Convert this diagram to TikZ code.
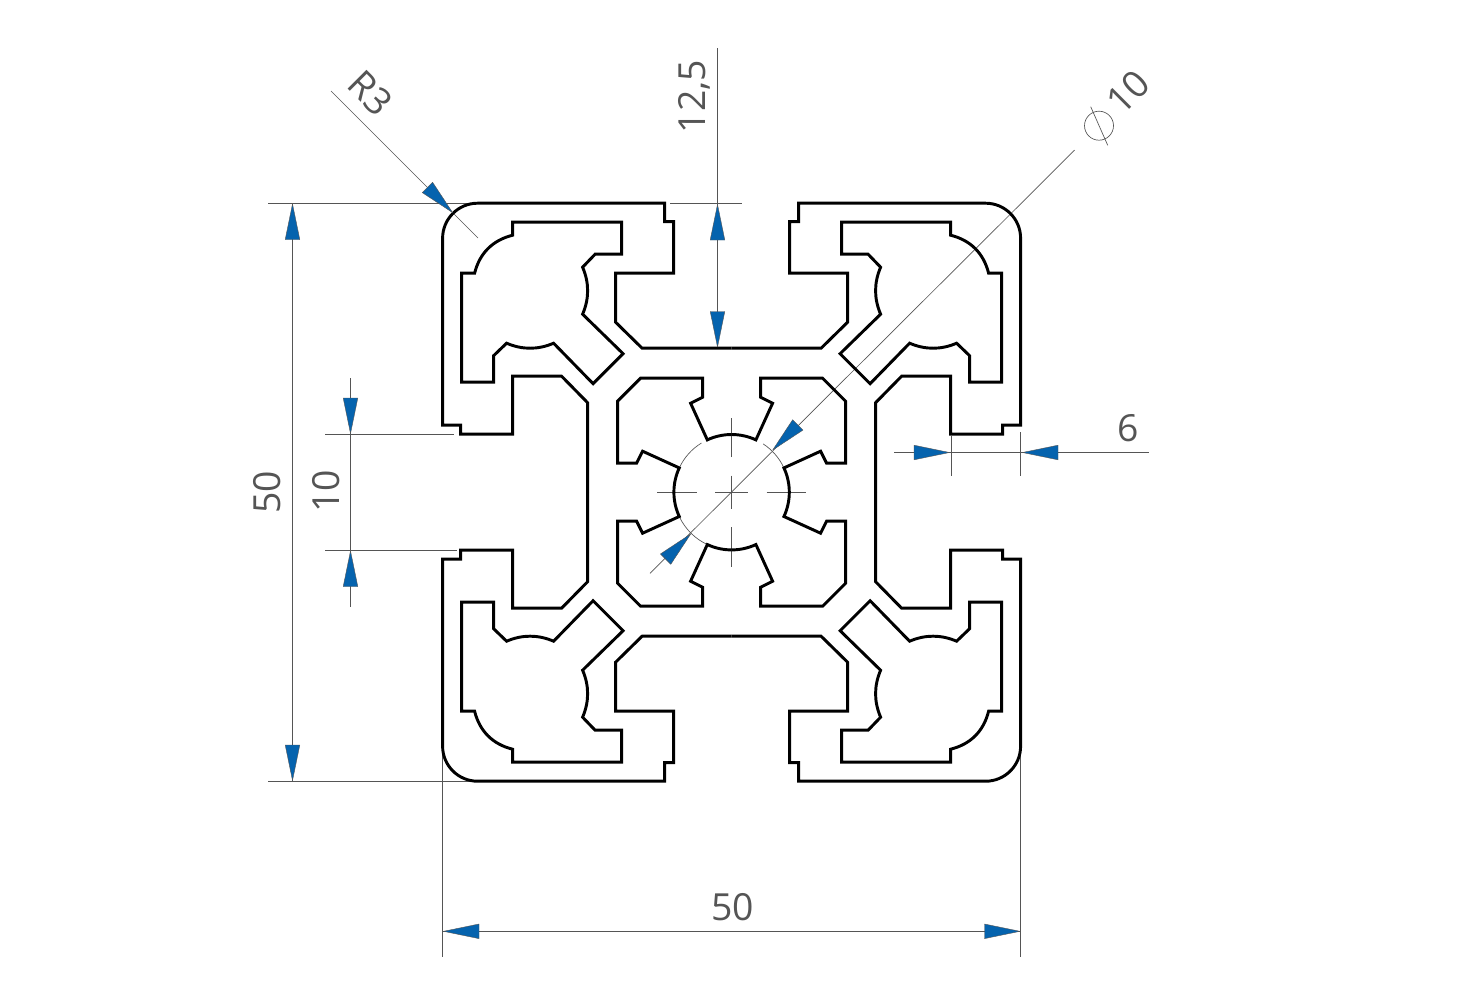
\documentclass[tikz,border=0pt]{standalone}
\usepackage{fontspec}
\setmainfont{Open Sans}
\definecolor{dimgray}{HTML}{555555}
\definecolor{dimblue}{HTML}{0563AE}
\tikzset{
  profile/.style={draw=black,line width=2.2pt,line join=miter,miter limit=3},
  hair/.style={draw=dimgray,line width=0.72pt},
  thinhair/.style={draw=dimgray,line width=0.5pt},
  arrowhead/.style={fill=dimblue,draw=dimgray,line width=0.3pt,line join=round},
  dimtext/.style={text=dimgray,inner sep=0pt,font=\fontsize{28}{28}\selectfont}
}
\newcommand{\dimarrow}[3]{\path[arrowhead,shift={(#1,#2)},rotate=#3] (0,0) -- (-35.5,-7.3) -- (-35.5,7.3) -- cycle;}
\begin{document}
\begin{tikzpicture}[x=0.75pt,y=-0.75pt]
\useasboundingbox (0,0) rectangle (1466,986);
\fill[white] (0,0) rectangle (1466,986);
% dimension and extension lines
\draw[hair] (292.5,203.3) -- (292.5,781);
\draw[hair] (268,203.3) -- (478,203.3);
\draw[hair] (268,781) -- (478,781);
\draw[hair] (350.5,378) -- (350.5,607);
\draw[hair] (325,434.3) -- (454,434.3);
\draw[hair] (325,550) -- (457,550);
\draw[hair] (717.5,48) -- (717.5,348);
\draw[hair] (670,203.3) -- (742,203.3);
\draw[hair] (894,452.5) -- (1149,452.5);
\draw[hair] (951,436) -- (951,476);
\draw[hair] (1020.6,432) -- (1020.6,476);
\draw[hair] (442.8,931.3) -- (1020.6,931.3);
\draw[hair] (442.8,745) -- (442.8,957);
\draw[hair] (1020.6,745) -- (1020.6,957);
\draw[thinhair] (331,91) -- (478,238);
\draw[thinhair] (650,573.3) -- (1074.7,150);
% diameter symbol
\draw[thinhair] (1099,125.7) circle[radius=14.5];
\draw[thinhair] (1090.7,106.7) -- (1107.7,145.3);
% centre cross and circle parts
\begin{scope}[shift={(731.6,492.2)}]
  \foreach \s in {1,-1}{
    \draw[hair] (\s*35,0) -- (\s*74.5,0);
    \draw[hair] (0,\s*35) -- (0,\s*74.5);
  }
  \draw[hair] (-16.5,0) -- (16.5,0);
  \draw[hair] (0,-16.5) -- (0,16.5);
  \draw[thinhair] (204.9:57.7) arc[start angle=204.9,end angle=238.5,radius=57.7];
  \draw[thinhair] (303.2:57.7) arc[start angle=303.2,end angle=334.5,radius=57.7];
  \draw[thinhair] (155:57.7) arc[start angle=155,end angle=114,radius=57.7];
\end{scope}
% profile, one quarter mirrored four times
\foreach \sx/\sy in {1/1,-1/1,1/-1,-1/-1}{
  \begin{scope}[shift={(731.6,492.2)},xscale=\sx,yscale=\sy]
    \draw[profile] (0,-144) -- (-89.5,-144) -- (-116,-170) -- (-116,-219) -- (-58,-219)
      -- (-58,-270.5) -- (-67,-270.5) -- (-67,-289) -- (-254,-289)
      arc[start angle=270,end angle=180,radius=35]
      -- (-289,-67) -- (-271,-67) -- (-271,-58) -- (-219,-58) -- (-219,-116)
      -- (-170,-116) -- (-144,-89.5) -- (-144,0);
    \draw[profile] (-219,-270) -- (-110,-270) -- (-110,-238) -- (-136.5,-238) -- (-149,-225)
      .. controls (-142.3,-209.3) and (-142.3,-193.7) .. (-149,-178)
      -- (-108.5,-138.5) -- (-138.5,-108.5) -- (-178,-149)
      .. controls (-193.7,-142.3) and (-209.3,-142.3) .. (-225,-149)
      -- (-238,-136.5) -- (-238,-110) -- (-270,-110) -- (-270,-219) -- (-257,-219)
      .. controls (-252,-239) and (-239,-252) .. (-219,-257) -- cycle;
    \draw[profile] (0,-57.7) arc[start angle=270,end angle=245.1,radius=57.7]
      -- (-41,-89) -- (-29,-95) -- (-29,-114) -- (-91,-114) -- (-114,-91) -- (-114,-29)
      -- (-95,-29) -- (-89,-41) -- (204.9:57.7)
      arc[start angle=204.9,end angle=180,radius=57.7];
  \end{scope}
}
% arrowheads
\dimarrow{292.5}{204}{90}
\dimarrow{292.5}{780.5}{-90}
\dimarrow{350.5}{433.5}{-90}
\dimarrow{350.5}{551}{90}
\dimarrow{717.5}{204.5}{90}
\dimarrow{717.5}{347}{-90}
\dimarrow{949.5}{452.5}{0}
\dimarrow{1022.5}{452.5}{180}
\dimarrow{443.5}{931.3}{180}
\dimarrow{1020}{931.3}{0}
\dimarrow{452.5}{212.5}{-45}
\dimarrow{772.7}{450}{225}
\dimarrow{690.7}{534}{45}
% labels
\node[dimtext,rotate=-45] (lblR) at (370.8,93.2) {R3};
\node[dimtext,rotate=90] (lblSlot) at (694,96.5) {12,5};
\node[dimtext,rotate=45] (lblDia) at (1128.3,91.7) {10};
\node[dimtext] (lblSix) at (1128.3,428.3) {6};
\node[dimtext] (lblW) at (732.7,907.3) {50};
\node[dimtext,rotate=90] (lblH) at (267,492.5) {50};
\node[dimtext,rotate=90] (lblTen) at (326,491.5) {10};
\end{tikzpicture}
\end{document}
